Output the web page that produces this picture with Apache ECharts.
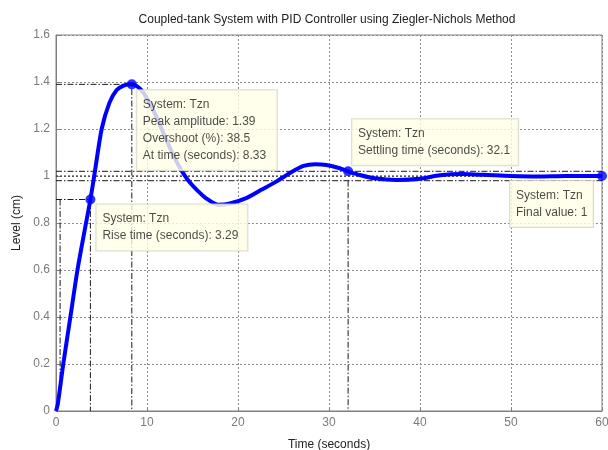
<!DOCTYPE html>
<html>
<head>
<meta charset="utf-8">
<script src="https://cdn.jsdelivr.net/npm/echarts@6/dist/echarts.min.js"></script>
<style>html,body{margin:0;padding:0;background:#fff;}#c{width:608px;height:450px;}</style>
</head>
<body>
<div id="c"></div>
<script>
// ---- data ----
const titleText = 'Coupled-tank System with PID Controller using Ziegler-Nichols Method';
const xName = 'Time (seconds)';
const yName = 'Level (cm)';
const xTicks = [0, 10, 20, 30, 40, 50, 60];
const yTicks = [0, 0.2, 0.4, 0.6, 0.8, 1, 1.2, 1.4, 1.6];
// step response (time, level)
const respTime  = [0, 0.2, 0.8, 1.58, 2.36, 3.3, 3.78, 4.2, 5.02, 5.86, 6.67, 7.5, 8.33, 9.2, 10, 11, 12, 13, 13.8, 14.6, 15.5, 16.5, 17.8, 19, 20.9, 22.5, 24.2, 25.8, 27.2, 28.5, 29.7, 31, 32.1, 33.5, 35, 37.5, 40, 42.2, 44.7, 47, 50, 53, 56, 60];
const respLevel = [0, 0.03, 0.2, 0.4, 0.6, 0.8, 0.9, 1.0, 1.2, 1.31, 1.366, 1.386, 1.39, 1.372, 1.33, 1.255, 1.165, 1.08, 1.022, 0.978, 0.94, 0.905, 0.878, 0.882, 0.906, 0.94, 0.976, 1.015, 1.043, 1.05, 1.047, 1.035, 1.02, 1.003, 0.99, 0.983, 0.988, 1.003, 1.008, 1.005, 1.0, 0.998, 1.0, 1.0];
// characteristics
const peakPt = [8.33, 1.39];
const risePt = [3.78, 0.9];
const riseLowT = 0.45, riseLowY = 0.1;
const settlePt = [32.1, 1.02];
const settleBand = [0.98, 1.02];
const finalPt = [60, 1];
const peakText = ['System: Tzn', 'Peak amplitude: 1.39', 'Overshoot (%): 38.5', 'At time (seconds): 8.33'];
const riseText = ['System: Tzn', 'Rise time (seconds): 3.29'];
const settleText = ['System: Tzn', 'Settling time (seconds): 32.1'];
const finalText = ['System: Tzn', 'Final value: 1'];

// ---- chart ----
const FONT = 'Liberation Sans, Arial, sans-serif';
const dashDot = [6, 2, 1.5, 2];
const refStyle = {color: '#1a1a1a', width: 1, type: dashDot};
function refLine(pts, style) {
  return {type: 'line', data: pts, symbol: 'none', silent: true, z: 3,
          lineStyle: Object.assign({}, refStyle, style || {}), animation: false};
}
function tip(pt, lines, pos, w) {
  return {type: 'scatter', data: [pt], symbolSize: 0, z: 10, silent: true, animation: false,
    label: {show: true, position: pos, formatter: lines.join('\n'), fontFamily: FONT, fontSize: 12,
      color: '#1a1a1a', lineHeight: 17, backgroundColor: '#FFFFE6', borderColor: '#D2D2C4', borderWidth: 1,
      padding: [6, 6, 6, 6], width: w, align: 'left', verticalAlign: 'top'}};
}
const chart = echarts.init(document.getElementById('c'), null, {renderer: 'canvas'});
chart.setOption({
  animation: false,
  title: {text: titleText, left: 322, top: 9, textAlign: 'center',
    textStyle: {fontFamily: FONT, fontSize: 12, fontWeight: 'normal', color: '#222'}},
  grid: {left: 56, right: 6, top: 35, bottom: 39, show: true, borderColor: '#808080', borderWidth: 1,
    outerBoundsMode: 'none', containLabel: false},
  xAxis: {type: 'value', min: xTicks[0], max: xTicks[xTicks.length - 1], interval: 10,
    name: xName, nameLocation: 'middle', nameGap: 28,
    nameTextStyle: {fontFamily: FONT, fontSize: 12, color: '#222'},
    axisLine: {lineStyle: {color: '#808080'}}, axisTick: {inside: true, length: 4, lineStyle: {color: '#808080'}},
    axisLabel: {fontFamily: FONT, fontSize: 12, color: '#7a7a7a', margin: 6},
    splitLine: {show: true, lineStyle: {color: '#8c8c8c', type: [2, 2], width: 1}}},
  yAxis: {type: 'value', min: yTicks[0], max: yTicks[yTicks.length - 1], interval: 0.2,
    name: yName, nameLocation: 'middle', nameGap: 33,
    nameTextStyle: {fontFamily: FONT, fontSize: 12, color: '#222'},
    axisLine: {show: true, lineStyle: {color: '#808080'}}, axisTick: {show: true, inside: true, length: 4, lineStyle: {color: '#808080'}},
    axisLabel: {fontFamily: FONT, fontSize: 12, color: '#7a7a7a', margin: 6,
      formatter: v => String(Math.round(v * 10) / 10)},
    splitLine: {show: true, lineStyle: {color: '#8c8c8c', type: [2, 2], width: 1}}},
  series: [
    // reference lines
    refLine([[0, peakPt[1]], peakPt, [peakPt[0], 0]]),
    refLine([[0, risePt[1]], risePt, [risePt[0], 0]]),
    refLine([[riseLowT, risePt[1]], [riseLowT, riseLowY]]),
    refLine([[0, settleBand[1]], [xTicks[xTicks.length - 1], settleBand[1]]]),
    refLine([[0, settleBand[0]], [xTicks[xTicks.length - 1], settleBand[0]]]),
    refLine([[settlePt[0], settleBand[0]], [settlePt[0], 0]]),
    refLine([[0, finalPt[1]], finalPt], {type: [2, 2]}),
    // response
    {type: 'line', data: respTime.map((t, i) => [t, respLevel[i]]), smooth: 0.25, symbol: 'none', z: 5,
      lineStyle: {color: '#0000FF', width: 4}, animation: false},
    // markers
    {type: 'scatter', data: [peakPt, risePt, settlePt, finalPt], symbolSize: 10, z: 6,
      itemStyle: {color: '#0000FF'}, animation: false},
    // datatips
    tip(peakPt, peakText, [5, 6], 128),
    tip(risePt, riseText, [6, 5], 139),
    tip(settlePt, settleText, [4, -52], 154),
    tip(finalPt, finalText, [-92, 5], 71)
  ]
});
</script>
</body>
</html>
